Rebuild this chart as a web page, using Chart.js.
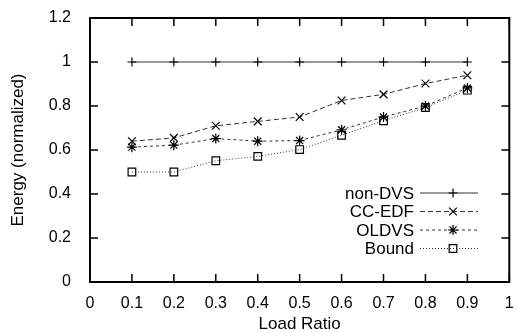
<!DOCTYPE html>
<html>
<head>
<meta charset="utf-8">
<script src="https://cdn.jsdelivr.net/npm/chart.js@4/dist/chart.umd.min.js"></script>
<style>
  html, body { margin: 0; padding: 0; background: #fff; }
  #wrap { width: 516px; height: 333px; }
</style>
</head>
<body>
<div id="wrap"><canvas id="chart" width="516" height="333"></canvas></div>
<script>
// Data
const loadRatio = [0.1, 0.2, 0.3, 0.4, 0.5, 0.6, 0.7, 0.8, 0.9];
const nonDVS = [1, 1, 1, 1, 1, 1, 1, 1, 1];
const ccEDF = [0.64, 0.655, 0.71, 0.73, 0.75, 0.825, 0.853, 0.902, 0.94];
const olDVS = [0.613, 0.622, 0.652, 0.64, 0.643, 0.692, 0.75, 0.8, 0.882];
const bound = [0.5, 0.5, 0.551, 0.571, 0.602, 0.667, 0.733, 0.793, 0.872];

const xTicks = [0, 0.1, 0.2, 0.3, 0.4, 0.5, 0.6, 0.7, 0.8, 0.9, 1];
const yTicks = [0, 0.2, 0.4, 0.6, 0.8, 1, 1.2];

const FONT = 'Liberation Sans, Arial, Helvetica, sans-serif';

function toPoints(ys) {
    return loadRatio.map((x, i) => ({ x: x, y: ys[i] }));
}

// Dataset styles
const series = [
    { label: 'non-DVS', data: nonDVS, dash: [], marker: 'cross', radius: 4.5 },
    { label: 'CC-EDF', data: ccEDF, dash: [5, 3], marker: 'crossRot', radius: 5.5 },
    { label: 'OLDVS', data: olDVS, dash: [3, 3], marker: 'star', radius: 5 },
    { label: 'Bound', data: bound, dash: [1, 2], marker: 'rect', radius: 5.4 }
];

// Box border and gnuplot-style inward ticks on all four sides
const framePlugin = {
    id: 'frame',
    afterDatasetsDraw(chart) {
        const ctx = chart.ctx;
        const area = chart.chartArea;
        const xs = chart.scales.x;
        const ys = chart.scales.y;
        const len = 8;
        ctx.save();
        ctx.strokeStyle = '#000';
        ctx.lineWidth = 1.5;
        ctx.beginPath();
        xTicks.forEach(v => {
            const px = xs.getPixelForValue(v);
            ctx.moveTo(px, area.bottom);
            ctx.lineTo(px, area.bottom - len);
            ctx.moveTo(px, area.top);
            ctx.lineTo(px, area.top + len);
        });
        yTicks.forEach(v => {
            const py = ys.getPixelForValue(v);
            ctx.moveTo(area.left, py);
            ctx.lineTo(area.left + len, py);
            ctx.moveTo(area.right, py);
            ctx.lineTo(area.right - len, py);
        });
        ctx.stroke();
        ctx.lineWidth = 2;
        ctx.strokeRect(area.left, area.top, area.right - area.left, area.bottom - area.top);
        ctx.restore();
    }
};

// Legend drawn inside the plot: text right-aligned, sample line on the right
const keyPlugin = {
    id: 'key',
    afterDatasetsDraw(chart) {
        const ctx = chart.ctx;
        const textRight = 414;
        const lineLeft = 420;
        const lineRight = 478;
        const markX = 453;
        const rowTop = 193;
        const rowStep = 18.5;
        ctx.save();
        ctx.font = '17px ' + FONT;
        ctx.textAlign = 'right';
        ctx.textBaseline = 'middle';
        chart.data.datasets.forEach((ds, i) => {
            const y = rowTop + i * rowStep;
            ctx.fillStyle = '#000';
            ctx.fillText(ds.label, textRight, y + 1);
            ctx.strokeStyle = ds.borderColor;
            ctx.lineWidth = ds.borderWidth;
            ctx.setLineDash(ds.borderDash);
            ctx.beginPath();
            ctx.moveTo(lineLeft, y);
            ctx.lineTo(lineRight, y);
            ctx.stroke();
            ctx.setLineDash([]);
            ctx.strokeStyle = '#000';
            ctx.fillStyle = 'rgba(0,0,0,0)';
            ctx.lineWidth = ds.pointBorderWidth;
            Chart.helpers.drawPoint(ctx, {
                pointStyle: ds.pointStyle,
                radius: ds.pointRadius,
                borderWidth: ds.pointBorderWidth,
                rotation: 0
            }, markX, y);
        });
        ctx.restore();
    }
};

new Chart(document.getElementById('chart'), {
    type: 'line',
    data: {
        datasets: series.map(s => ({
            label: s.label,
            data: toPoints(s.data),
            borderColor: '#333',
            borderWidth: 1,
            borderDash: s.dash,
            pointStyle: s.marker,
            pointRadius: s.radius,
            pointBorderColor: '#000',
            pointBackgroundColor: 'rgba(0,0,0,0)',
            pointBorderWidth: 1.2,
            tension: 0,
            fill: false
        }))
    },
    options: {
        responsive: false,
        animation: false,
        layout: { padding: { left: 0, right: 4, top: 18, bottom: 0 } },
        plugins: {
            legend: { display: false },
            tooltip: { enabled: false }
        },
        scales: {
            x: {
                type: 'linear',
                min: 0,
                max: 1,
                afterFit(scale) {
                    scale.height = 51;
                    scale.paddingLeft = 0;
                    scale.paddingRight = 0;
                },
                afterBuildTicks(scale) { scale.ticks = xTicks.map(v => ({ value: v })); },
                grid: { display: false },
                border: { display: false },
                ticks: {
                    padding: 4,
                    color: '#000',
                    font: { family: FONT, size: 16 },
                    maxRotation: 0,
                    callback: v => String(v)
                },
                title: {
                    display: true,
                    text: 'Load Ratio',
                    color: '#000',
                    font: { family: FONT, size: 17 },
                    padding: { top: 0, bottom: -2 }
                }
            },
            y: {
                type: 'linear',
                min: 0,
                max: 1.2,
                afterFit(scale) {
                    scale.width = 90;
                    scale.paddingTop = 0;
                    scale.paddingBottom = 0;
                },
                afterBuildTicks(scale) { scale.ticks = yTicks.map(v => ({ value: v })); },
                grid: { display: false },
                border: { display: false },
                ticks: {
                    padding: 11,
                    color: '#000',
                    font: { family: FONT, size: 16 },
                    callback: v => String(v)
                },
                title: {
                    display: true,
                    text: 'Energy (normalized)',
                    color: '#000',
                    font: { family: FONT, size: 17 },
                    padding: { top: 8, bottom: 0 }
                }
            }
        }
    },
    plugins: [framePlugin, keyPlugin]
});
</script>
</body>
</html>
